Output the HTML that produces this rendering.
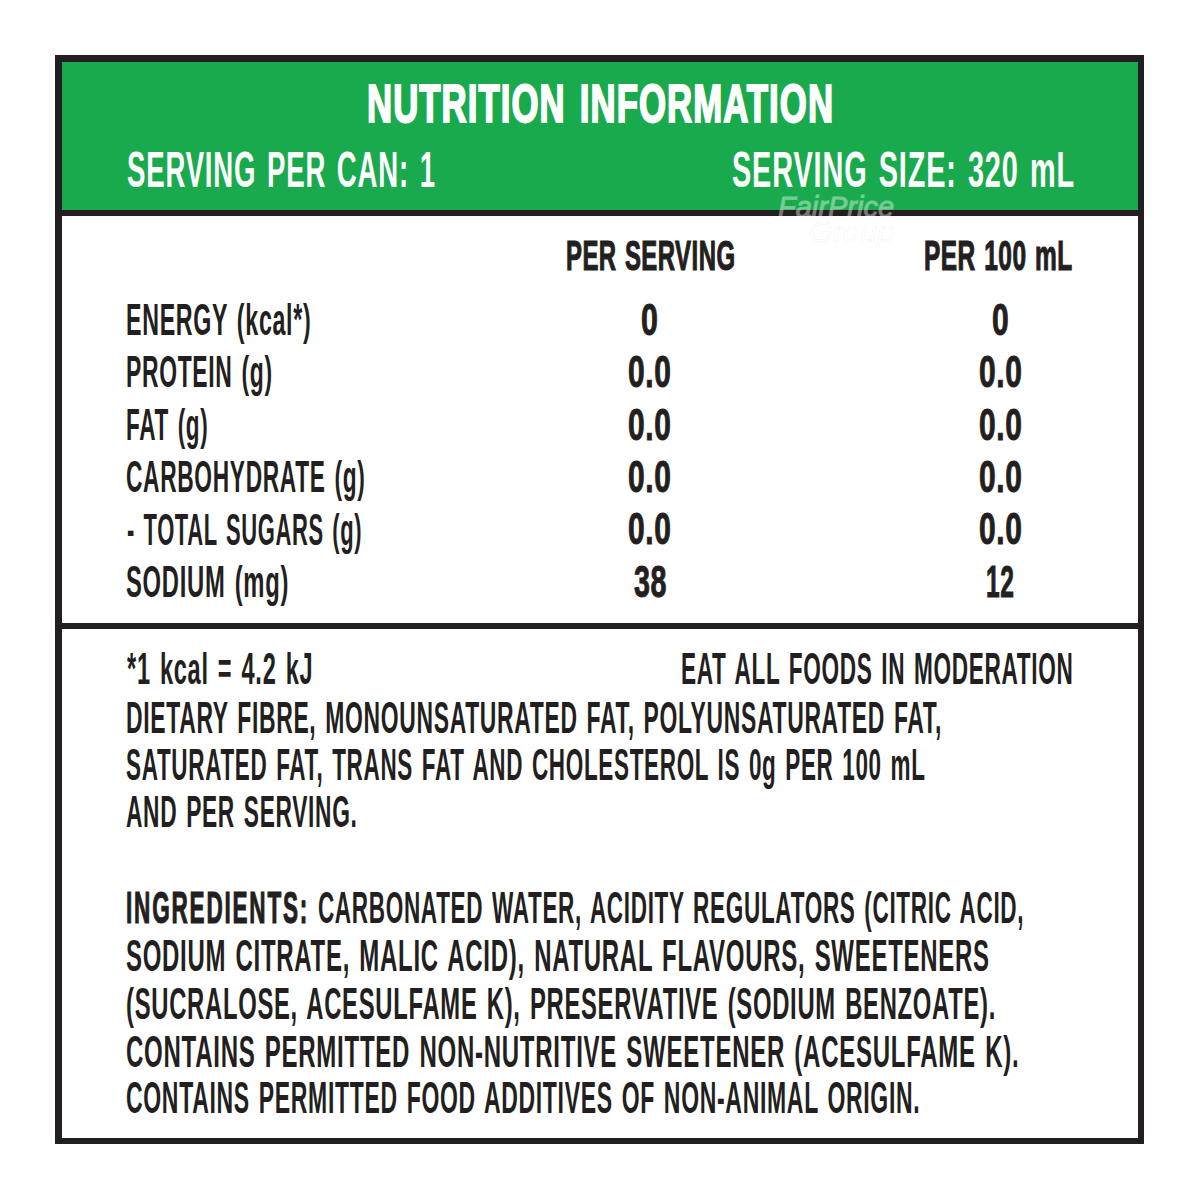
<!DOCTYPE html>
<html><head><meta charset="utf-8"><style>
html,body{margin:0;padding:0;background:#fff;}
body{width:1200px;height:1200px;position:relative;overflow:hidden;font-family:"Liberation Sans",sans-serif;}
.box{position:absolute;left:55px;top:55px;width:1076px;height:1076px;border:6px solid #231f20;border-left-width:7px;border-top-width:7px;background:#fff;}
.green{position:absolute;left:62px;top:62px;width:1076px;height:148px;background:#1aaa4e;}
.hr{position:absolute;left:62px;width:1076px;height:6px;background:#231f20;}
.t{position:absolute;white-space:nowrap;transform-origin:0 0;}
.wm{position:absolute;white-space:nowrap;font-style:italic;transform-origin:0 0;}
</style></head><body>
<div class="box"></div>
<div class="green"></div>
<div class="hr" style="top:210px"></div>
<div class="hr" style="top:623px"></div>
<div class="wm" style="left:778px;top:193px;font-size:29px;line-height:29px;color:#fff;-webkit-text-stroke:0.8px #fff;opacity:0.4;transform:scaleX(1.0)">FairPrice</div>
<div class="wm" style="left:809px;top:217px;font-size:30px;line-height:30px;color:rgba(0,0,0,0.012);-webkit-text-stroke:1.2px rgba(0,0,0,0.045);transform:scaleX(1.02)">Group</div>
<div class="t" style="left:367.19px;top:78.14px;transform:scaleX(0.6574);color:#ffffff;font-size:52.90px;line-height:52.90px;font-weight:bold;letter-spacing:0.03em;word-spacing:0.1em;-webkit-text-stroke:2.0px;">NUTRITION INFORMATION</div>
<div class="t" style="left:127.44px;top:145.22px;transform:scaleX(0.5592);color:#ffffff;font-size:49.28px;line-height:49.28px;font-weight:bold;letter-spacing:0.03em;word-spacing:0.08em;">SERVING PER CAN: 1</div>
<div class="t" style="left:731.91px;top:145.22px;transform:scaleX(0.5859);color:#ffffff;font-size:49.28px;line-height:49.28px;font-weight:bold;letter-spacing:0.03em;word-spacing:0.08em;">SERVING SIZE: 320 mL</div>
<div class="t" style="left:565.74px;top:235.21px;transform:scaleX(0.5634);color:#231f20;font-size:42.46px;line-height:42.46px;font-weight:bold;letter-spacing:0.02em;word-spacing:0.05em;-webkit-text-stroke:1.2px;">PER SERVING</div>
<div class="t" style="left:924.42px;top:235.21px;transform:scaleX(0.5762);color:#231f20;font-size:42.46px;line-height:42.46px;font-weight:bold;letter-spacing:0.02em;word-spacing:0.05em;-webkit-text-stroke:1.2px;">PER 100 mL</div>
<div class="t" style="left:125.94px;top:297.77px;transform:scaleX(0.5289);color:#231f20;font-size:43.91px;line-height:43.91px;font-weight:bold;letter-spacing:0.03em;word-spacing:0.08em;">ENERGY (kcal*)</div>
<div class="t" style="left:125.96px;top:350.21px;transform:scaleX(0.5213);color:#231f20;font-size:43.91px;line-height:43.91px;font-weight:bold;letter-spacing:0.03em;word-spacing:0.08em;">PROTEIN (g)</div>
<div class="t" style="left:125.97px;top:402.65px;transform:scaleX(0.5135);color:#231f20;font-size:43.91px;line-height:43.91px;font-weight:bold;letter-spacing:0.03em;word-spacing:0.08em;">FAT (g)</div>
<div class="t" style="left:126.48px;top:455.09px;transform:scaleX(0.5176);color:#231f20;font-size:43.91px;line-height:43.91px;font-weight:bold;letter-spacing:0.03em;word-spacing:0.08em;">CARBOHYDRATE (g)</div>
<div class="t" style="left:126.50px;top:507.53px;transform:scaleX(0.4996);color:#231f20;font-size:43.91px;line-height:43.91px;font-weight:bold;letter-spacing:0.03em;word-spacing:0.08em;">- TOTAL SUGARS (g)</div>
<div class="t" style="left:126.46px;top:559.97px;transform:scaleX(0.5421);color:#231f20;font-size:43.91px;line-height:43.91px;font-weight:bold;letter-spacing:0.03em;word-spacing:0.08em;">SODIUM (mg)</div>
<div class="t" style="left:641.11px;top:297.73px;transform:scaleX(0.6870);color:#231f20;font-size:44.20px;line-height:44.20px;font-weight:bold;letter-spacing:0.02em;word-spacing:0.0em;-webkit-text-stroke:1.0px;">0</div>
<div class="t" style="left:992.12px;top:297.73px;transform:scaleX(0.6783);color:#231f20;font-size:44.20px;line-height:44.20px;font-weight:bold;letter-spacing:0.02em;word-spacing:0.0em;-webkit-text-stroke:1.0px;">0</div>
<div class="t" style="left:628.02px;top:350.17px;transform:scaleX(0.6774);color:#231f20;font-size:44.20px;line-height:44.20px;font-weight:bold;letter-spacing:0.02em;word-spacing:0.0em;-webkit-text-stroke:1.0px;">0.0</div>
<div class="t" style="left:978.92px;top:350.17px;transform:scaleX(0.6774);color:#231f20;font-size:44.20px;line-height:44.20px;font-weight:bold;letter-spacing:0.02em;word-spacing:0.0em;-webkit-text-stroke:1.0px;">0.0</div>
<div class="t" style="left:628.02px;top:402.61px;transform:scaleX(0.6774);color:#231f20;font-size:44.20px;line-height:44.20px;font-weight:bold;letter-spacing:0.02em;word-spacing:0.0em;-webkit-text-stroke:1.0px;">0.0</div>
<div class="t" style="left:978.92px;top:402.61px;transform:scaleX(0.6774);color:#231f20;font-size:44.20px;line-height:44.20px;font-weight:bold;letter-spacing:0.02em;word-spacing:0.0em;-webkit-text-stroke:1.0px;">0.0</div>
<div class="t" style="left:628.02px;top:455.05px;transform:scaleX(0.6774);color:#231f20;font-size:44.20px;line-height:44.20px;font-weight:bold;letter-spacing:0.02em;word-spacing:0.0em;-webkit-text-stroke:1.0px;">0.0</div>
<div class="t" style="left:978.92px;top:455.05px;transform:scaleX(0.6774);color:#231f20;font-size:44.20px;line-height:44.20px;font-weight:bold;letter-spacing:0.02em;word-spacing:0.0em;-webkit-text-stroke:1.0px;">0.0</div>
<div class="t" style="left:628.02px;top:507.49px;transform:scaleX(0.6774);color:#231f20;font-size:44.20px;line-height:44.20px;font-weight:bold;letter-spacing:0.02em;word-spacing:0.0em;-webkit-text-stroke:1.0px;">0.0</div>
<div class="t" style="left:978.92px;top:507.49px;transform:scaleX(0.6774);color:#231f20;font-size:44.20px;line-height:44.20px;font-weight:bold;letter-spacing:0.02em;word-spacing:0.0em;-webkit-text-stroke:1.0px;">0.0</div>
<div class="t" style="left:633.50px;top:559.93px;transform:scaleX(0.6480);color:#231f20;font-size:44.20px;line-height:44.20px;font-weight:bold;letter-spacing:0.02em;word-spacing:0.0em;-webkit-text-stroke:1.0px;">38</div>
<div class="t" style="left:986.14px;top:559.93px;transform:scaleX(0.5563);color:#231f20;font-size:44.20px;line-height:44.20px;font-weight:bold;letter-spacing:0.02em;word-spacing:0.0em;-webkit-text-stroke:1.0px;">12</div>
<div class="t" style="left:126.50px;top:647.43px;transform:scaleX(0.5345);color:#231f20;font-size:44.20px;line-height:44.20px;font-weight:bold;letter-spacing:0.03em;word-spacing:0.08em;">*1 kcal = 4.2 kJ</div>
<div class="t" style="left:680.98px;top:647.43px;transform:scaleX(0.5114);color:#231f20;font-size:44.20px;line-height:44.20px;font-weight:bold;letter-spacing:0.03em;word-spacing:0.08em;">EAT ALL FOODS IN MODERATION</div>
<div class="t" style="left:125.86px;top:695.63px;transform:scaleX(0.5182);color:#231f20;font-size:44.20px;line-height:44.20px;font-weight:bold;letter-spacing:0.03em;word-spacing:0.08em;">DIETARY FIBRE, MONOUNSATURATED FAT, POLYUNSATURATED FAT,</div>
<div class="t" style="left:126.39px;top:743.33px;transform:scaleX(0.5090);color:#231f20;font-size:44.20px;line-height:44.20px;font-weight:bold;letter-spacing:0.03em;word-spacing:0.08em;">SATURATED FAT, TRANS FAT AND CHOLESTEROL IS 0g PER 100 mL</div>
<div class="t" style="left:126.39px;top:790.43px;transform:scaleX(0.5148);color:#231f20;font-size:44.20px;line-height:44.20px;font-weight:bold;letter-spacing:0.03em;word-spacing:0.08em;">AND PER SERVING.</div>
<div class="t" style="left:126.19px;top:885.73px;transform:scaleX(0.5100);color:#231f20;font-size:44.20px;line-height:44.20px;font-weight:bold;letter-spacing:0.03em;word-spacing:0.08em;"><b style="-webkit-text-stroke:1.2px;letter-spacing:0.08em">INGREDIENTS:</b> CARBONATED WATER, ACIDITY REGULATORS (CITRIC ACID,</div>
<div class="t" style="left:126.16px;top:933.63px;transform:scaleX(0.5426);color:#231f20;font-size:44.20px;line-height:44.20px;font-weight:bold;letter-spacing:0.03em;word-spacing:0.08em;">SODIUM CITRATE, MALIC ACID), NATURAL FLAVOURS, SWEETENERS</div>
<div class="t" style="left:125.62px;top:981.53px;transform:scaleX(0.5390);color:#231f20;font-size:44.20px;line-height:44.20px;font-weight:bold;letter-spacing:0.03em;word-spacing:0.08em;">(SUCRALOSE, ACESULFAME K), PRESERVATIVE (SODIUM BENZOATE).</div>
<div class="t" style="left:126.16px;top:1029.53px;transform:scaleX(0.5438);color:#231f20;font-size:44.20px;line-height:44.20px;font-weight:bold;letter-spacing:0.03em;word-spacing:0.08em;">CONTAINS PERMITTED NON-NUTRITIVE SWEETENER (ACESULFAME K).</div>
<div class="t" style="left:126.18px;top:1076.03px;transform:scaleX(0.5202);color:#231f20;font-size:44.20px;line-height:44.20px;font-weight:bold;letter-spacing:0.03em;word-spacing:0.08em;">CONTAINS PERMITTED FOOD ADDITIVES OF NON-ANIMAL ORIGIN.</div>
</body></html>
